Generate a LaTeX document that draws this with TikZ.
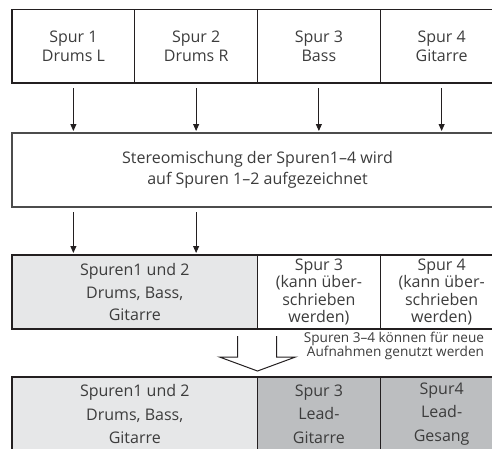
\documentclass[tikz,border=0pt]{standalone}
\usepackage{fontspec}
\setmainfont{Open Sans}
\usepackage{tikz}
\usetikzlibrary{positioning,arrows.meta}
\definecolor{lightfill}{HTML}{E6E7E8}
\definecolor{darkfill}{HTML}{BCBEC0}
\definecolor{ink}{HTML}{231F20}
\definecolor{txt}{HTML}{3C3C3C}

\begin{document}
\begin{tikzpicture}[x=1pt, y=-1pt, every node/.style={text=txt, align=center, inner sep=0pt, outer sep=0pt},
  cell/.style={draw=ink, line width=1.2pt, minimum width=122.75pt, minimum height=74pt, font=\fontsize{16}{19}\selectfont},
  arr/.style={draw=ink, line width=0.9pt, -{Triangle[width=6pt,length=7pt]}, shorten <=5pt, shorten >=2pt}]
  \useasboundingbox (0,0) rectangle (492,448);
  \node[cell, anchor=north west, minimum height=73.5pt] (s1) at (12,9.5) {Spur 1\\Drums L};
  \node[cell, right=0pt of s1, minimum height=73.5pt] (s2) {Spur 2\\Drums R};
  \node[cell, right=0pt of s2, minimum height=73.5pt] (s3) {Spur 3\\Bass};
  \node[cell, right=0pt of s3, minimum height=73.5pt] (s4) {Spur 4\\Gitarre};
  \node[cell, draw=black!70, minimum width=491pt, below=50pt of s1.south west, anchor=north west, font=\fontsize{16}{21}\selectfont] (mix) {Stereomischung der Spuren1–4 wird\\auf Spuren 1–2 aufgezeichnet};
  \node[cell, fill=lightfill, minimum width=245.5pt, below=48pt of mix.south west, anchor=north west, font=\fontsize{16}{22.5}\selectfont] (r1) {Spuren1 und 2\\Drums, Bass,\\Gitarre};
  \node[cell, right=0pt of r1, font=\fontsize{16}{17.3}\selectfont] (r3) {Spur 3\\(kann über-\\schrieben\\werden)};
  \node[cell, right=0pt of r3, font=\fontsize{16}{17.3}\selectfont] (r4) {Spur 4\\(kann über-\\schrieben\\werden)};
  \node[cell, fill=lightfill, minimum width=245.5pt, below=48pt of r1.south west, anchor=north west, font=\fontsize{16}{23.5}\selectfont] (n1) {Spuren1 und 2\\Drums, Bass,\\Gitarre};
  \node[cell, fill=darkfill, right=0pt of n1, font=\fontsize{16}{23.5}\selectfont] (n3) {Spur 3\\Lead-\\Gitarre};
  \node[cell, fill=darkfill, right=0pt of n3, font=\fontsize{16}{23.5}\selectfont] (n4) {Spur4\\Lead-\\Gesang};
  \node[anchor=south east, align=right, font=\fontsize{13.6}{13.3}\selectfont] (note) at (484,360) {Spuren 3–4 können für neue\\Aufnahmen genutzt werden};
  \foreach \i in {1,...,4} \draw[arr] (s\i) -- (s\i |- mix.north);
  \foreach \i in {1,2} \draw[arr] (s\i |- mix.south) -- (s\i |- r1.north);
  \draw[draw=ink, line width=1pt, line join=miter] ([xshift=-20pt, yshift=-7pt]r1.south east) -- ++(0,21) -- ++(-18,0) -- ([yshift=-42pt]r1.south east) -- ++(38,-14) -- ++(-19,0) -- ([xshift=19pt, yshift=-7pt]r1.south east);
\end{tikzpicture}
\end{document}
